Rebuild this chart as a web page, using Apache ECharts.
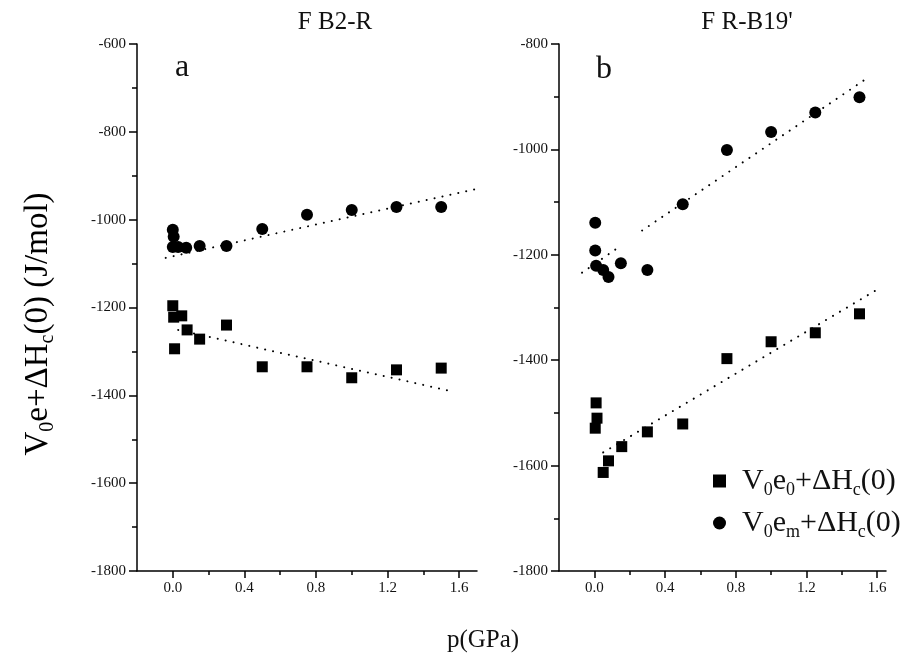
<!DOCTYPE html>
<html><head><meta charset="utf-8">
<script src="https://cdn.jsdelivr.net/npm/echarts@6/dist/echarts.min.js"></script>
<style>html,body{margin:0;padding:0;background:#fff}#c{width:904px;height:667px}</style>
</head><body><div id="c"></div><script>
// ---- data ----
const xMajorTicks = [0, 0.4, 0.8, 1.2, 1.6];
const xMinorTicks = [0.2, 0.6, 1.0, 1.4];

// Panel a (F B2-R)
const aSquareX = [0, 0.005, 0.05, 0.01, 0.08, 0.15, 0.3, 0.5, 0.75, 1.0, 1.25, 1.5];
const aSquareY = [-1196, -1222, -1219, -1294, -1251, -1272, -1240, -1335, -1335, -1360, -1342, -1338];
const aCircleX = [0, 0.005, 0, 0.03, 0.075, 0.15, 0.3, 0.5, 0.75, 1.0, 1.25, 1.5];
const aCircleY = [-1023, -1039, -1062, -1062, -1064, -1060, -1060, -1021, -989, -978, -971, -971];
const aCircleFit = [[-0.04, -1087], [1.7, -930]];
const aSquareFit = [[0.03, -1251], [1.55, -1390]];

// Panel b (F R-B19')
const bSquareX = [0.01, 0.015, 0.005, 0.05, 0.08, 0.155, 0.3, 0.5, 0.75, 1.0, 1.25, 1.5];
const bSquareY = [-1481, -1510, -1529, -1613, -1591, -1564, -1536, -1521, -1397, -1365, -1348, -1312];
const bCircleX = [0.005, 0.005, 0.01, 0.05, 0.08, 0.15, 0.3, 0.5, 0.75, 1.0, 1.25, 1.5];
const bCircleY = [-1139, -1192, -1221, -1229, -1242, -1216, -1229, -1104, -1001, -967, -930, -901];
const bCircleFitLow = [[-0.07, -1234], [0.14, -1185]];
const bCircleFitHigh = [[0.27, -1154], [1.56, -861]];
const bSquareFit = [[0.05, -1575], [1.59, -1268]];

// ---- chart ----
const F = '"Liberation Serif","Times New Roman",serif';
const zip = (xs, ys) => xs.map((x, i) => [x, ys[i]]);
const blk = {color: '#000', width: 1.5};
const NAME_SQ = 'V0e0+dHc(0)';
const NAME_CI = 'V0em+dHc(0)';

function xMain(gi, max) {
  return {type: 'value', gridIndex: gi, position: 'bottom', min: -0.2, max: max, interval: 0.2,
    axisLine: {onZero: false, lineStyle: blk},
    axisTick: {customValues: xMajorTicks, length: 7, lineStyle: blk},
    axisLabel: {customValues: xMajorTicks, formatter: v => v.toFixed(1), margin: 10,
      fontSize: 15, fontFamily: F, color: '#111'},
    splitLine: {show: false}};
}
function xMinor(gi, max) {
  return {type: 'value', gridIndex: gi, position: 'bottom', min: -0.2, max: max, interval: 0.2,
    axisLine: {show: false, onZero: false},
    axisTick: {customValues: xMinorTicks, length: 4, lineStyle: blk},
    axisLabel: {show: false}, splitLine: {show: false}};
}
function yAx(gi, min, max) {
  return {type: 'value', gridIndex: gi, min: min, max: max, interval: 200,
    axisLine: {onZero: false, lineStyle: blk},
    axisTick: {length: 8, lineStyle: blk},
    minorTick: {show: true, splitNumber: 2, length: 5, lineStyle: blk},
    axisLabel: {margin: 11, fontSize: 15, fontFamily: F, color: '#111', formatter: v => String(v)},
    splitLine: {show: false}};
}
function scat(name, xi, yi, data, sym) {
  return {type: 'scatter', name: name, xAxisIndex: xi, yAxisIndex: yi, data: data,
    symbol: sym, symbolSize: sym === 'rect' ? 11 : 12, itemStyle: {color: '#000', opacity: 1}, z: 3};
}
function fit(xi, yi, data) {
  return {type: 'line', xAxisIndex: xi, yAxisIndex: yi, data: data, showSymbol: false, silent: true,
    lineStyle: {color: '#000', width: 2, type: [0.1, 8], cap: 'round'}, z: 2};
}

const richMain = {
  n: {fontFamily: F, fontSize: 30, color: '#111', lineHeight: 32},
  s: {fontFamily: F, fontSize: 18, color: '#111', lineHeight: 18, padding: [18, 0, 0, 0]}
};
const richY = {
  n: {fontFamily: F, fontSize: 33, color: '#111', lineHeight: 36},
  s: {fontFamily: F, fontSize: 20, color: '#111', lineHeight: 20, padding: [20, 0, 0, 0]}
};

const option = {
  backgroundColor: '#fff',
  animation: false,
  grid: [
    {left: 137, top: 44, width: 340, height: 527},
    {left: 559, top: 44, width: 327, height: 527}
  ],
  xAxis: [xMain(0, 1.7), xMinor(0, 1.7), xMain(1, 1.65), xMinor(1, 1.65)],
  yAxis: [yAx(0, -1800, -600), yAx(1, -1800, -800)],
  legend: {
    orient: 'vertical', left: 708, top: 458, itemGap: 6, itemWidth: 13, itemHeight: 13,
    data: [{name: NAME_SQ, icon: 'rect'}, {name: NAME_CI, icon: 'circle'}],
    textStyle: {padding: [0, 0, 0, 11], rich: richMain},
    formatter: function (n) {
      return n === NAME_SQ ? '{n|V}{s|0}{n|e}{s|0}{n|+ΔH}{s|c}{n|(0)}'
                           : '{n|V}{s|0}{n|e}{s|m}{n|+ΔH}{s|c}{n|(0)}';
    }
  },
  graphic: [
    {type: 'text', x: 335, y: 22, style: {text: 'F B2-R', font: '25px ' + F, fill: '#111', align: 'center', verticalAlign: 'middle'}},
    {type: 'text', x: 747, y: 22, style: {text: "F R-B19'", font: '25px ' + F, fill: '#111', align: 'center', verticalAlign: 'middle'}},
    {type: 'text', x: 182, y: 68, style: {text: 'a', font: '32px ' + F, fill: '#111', align: 'center', verticalAlign: 'middle'}},
    {type: 'text', x: 604, y: 70, style: {text: 'b', font: '32px ' + F, fill: '#111', align: 'center', verticalAlign: 'middle'}},
    {type: 'text', x: 483, y: 640, style: {text: 'p(GPa)', font: '25px ' + F, fill: '#111', align: 'center', verticalAlign: 'middle'}},
    {type: 'text', x: 38, y: 324, rotation: Math.PI / 2,
      style: {text: '{n|V}{s|0}{n|e+ΔH}{s|c}{n|(0) (J/mol)}', rich: richY, align: 'center', verticalAlign: 'middle'}}
  ],
  series: [
    fit(0, 0, aCircleFit), fit(0, 0, aSquareFit),
    scat(NAME_SQ, 0, 0, zip(aSquareX, aSquareY), 'rect'),
    scat(NAME_CI, 0, 0, zip(aCircleX, aCircleY), 'circle'),
    fit(2, 1, bCircleFitLow), fit(2, 1, bCircleFitHigh), fit(2, 1, bSquareFit),
    scat(NAME_SQ, 2, 1, zip(bSquareX, bSquareY), 'rect'),
    scat(NAME_CI, 2, 1, zip(bCircleX, bCircleY), 'circle')
  ]
};
const chart = echarts.init(document.getElementById('c'), null, {renderer: 'canvas'});
chart.setOption(option);
</script></body></html>
